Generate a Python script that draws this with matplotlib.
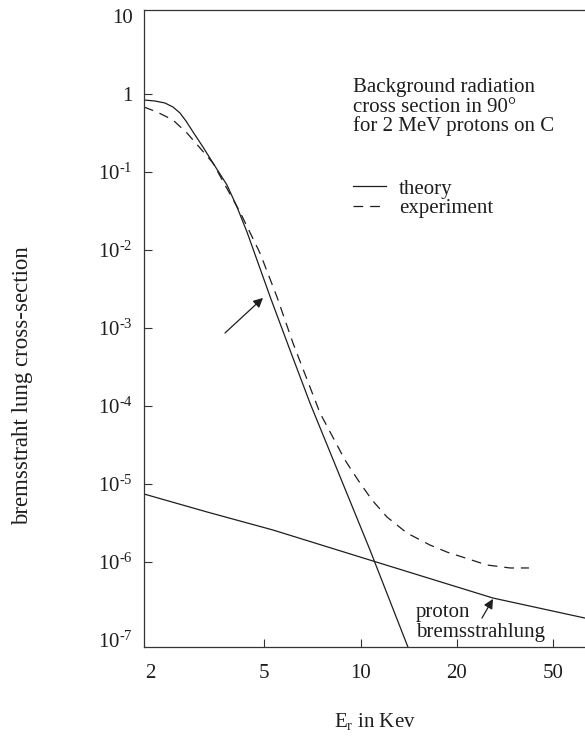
import numpy as np
import matplotlib
matplotlib.use("Agg")
import matplotlib.pyplot as plt
from matplotlib.ticker import FixedLocator, FixedFormatter, NullLocator

plt.rcParams['font.family'] = ['Liberation Serif', 'DejaVu Serif']
plt.rcParams['mathtext.fontset'] = 'custom'
plt.rcParams['mathtext.rm'] = 'Liberation Serif'
plt.rcParams['mathtext.it'] = 'Liberation Serif:italic'
plt.rcParams['lines.scale_dashes'] = False

# theory curve (E_r in keV, cross-section)
theory_x = [1.906, 2.082, 2.256, 2.406, 2.545, 2.671, 2.827, 3.063, 3.318, 3.714, 4.025, 4.362,
            5.256, 6.021, 6.946, 8.014, 10.67, 14.04]
theory_y = [0.838, 0.813, 0.767, 0.681, 0.571, 0.451, 0.326, 0.209, 0.1304, 0.0681, 0.0356, 0.0170,
            2.35e-3, 5.22e-4, 1.092e-4, 2.57e-5, 1.43e-6, 8.1e-8]

# experiment curve
exp_x = [1.906, 2.116, 2.406, 2.693, 2.99, 3.318, 3.655, 4.123, 4.842, 5.487, 6.151, 7.462,
         8.92, 9.788, 10.83, 12.06, 13.94, 16.46, 18.61, 26.64, 33.18, 39.76]
exp_y = [0.681, 0.588, 0.464, 0.316, 0.203, 0.1304, 0.0681, 0.0307, 9.15e-3, 2.50e-3, 6.42e-4, 8.13e-5,
         2.03e-5, 1.125e-5, 6.23e-6, 3.78e-6, 2.35e-6, 1.65e-6, 1.34e-6, 9.15e-7, 8.38e-7, 8.38e-7]

# proton bremsstrahlung line
proton_x = [1.906, 3.161, 5.332, 10.90, 28.20, 67.9]
proton_y = [7.44e-6, 4.38e-6, 2.57e-6, 1.03e-6, 3.45e-7, 1.91e-7]

x_ticks = [2, 5, 10, 20, 50]
x_ticklabels = ['2', '5', '10', '20', '50']
y_ticks = [1e1, 1, 1e-1, 1e-2, 1e-3, 1e-4, 1e-5, 1e-6, 1e-7]
y_ticklabels = ['10', '1'] + [r'$\mathregular{10^{\text{-}%d}}$' % k for k in range(1, 8)]

title_lines = ['Background radiation', 'cross section in 90°', 'for 2 MeV protons on C']

# the printed energy axis is hand drawn: tick spacing is not a clean log scale
AX_LOG = np.log10(x_ticks)
AX_POS = np.array([150, 264, 361, 457, 553], dtype=float)


def fwd(x):
    lx = np.log10(np.clip(np.asarray(x, dtype=float), 1e-9, None))
    p = np.interp(lx, AX_LOG, AX_POS)
    s0 = (AX_POS[1] - AX_POS[0]) / (AX_LOG[1] - AX_LOG[0])
    s1 = (AX_POS[-1] - AX_POS[-2]) / (AX_LOG[-1] - AX_LOG[-2])
    p = np.where(lx < AX_LOG[0], AX_POS[0] + (lx - AX_LOG[0]) * s0, p)
    p = np.where(lx > AX_LOG[-1], AX_POS[-1] + (lx - AX_LOG[-1]) * s1, p)
    return p


def inv(p):
    p = np.asarray(p, dtype=float)
    lx = np.interp(p, AX_POS, AX_LOG)
    s0 = (AX_LOG[1] - AX_LOG[0]) / (AX_POS[1] - AX_POS[0])
    s1 = (AX_LOG[-1] - AX_LOG[-2]) / (AX_POS[-1] - AX_POS[-2])
    lx = np.where(p < AX_POS[0], AX_LOG[0] + (p - AX_POS[0]) * s0, lx)
    lx = np.where(p > AX_POS[-1], AX_LOG[-1] + (p - AX_POS[-1]) * s1, lx)
    return 10 ** lx


W, H = 585, 738
fig = plt.figure(figsize=(W / 100, H / 100), dpi=100)
ax = fig.add_axes([144 / W, (H - 647) / H, (W - 144) / W, (647 - 10) / H])

ink = '#1e1e1e'
ax.set_xscale('function', functions=(fwd, inv))
ax.set_yscale('log')

th, = ax.plot(theory_x, theory_y, color=ink, lw=0.9, label='theory')
ex, = ax.plot(exp_x, exp_y, color=ink, lw=0.9, dashes=(7, 5), label='experiment')
ax.plot(proton_x, proton_y, color=ink, lw=0.9)

ax.set_xlim(1.906, 67.9)
ax.set_ylim(10 ** -7.09, 10 ** 1.077)

ax.xaxis.set_major_locator(FixedLocator(x_ticks))
ax.xaxis.set_major_formatter(FixedFormatter(x_ticklabels))
ax.xaxis.set_minor_locator(NullLocator())
ax.yaxis.set_major_locator(FixedLocator(y_ticks))
ax.yaxis.set_major_formatter(FixedFormatter(y_ticklabels))
ax.yaxis.set_minor_locator(NullLocator())

ax.tick_params(axis='both', direction='in', length=6, width=0.8, color='#333333',
               labelsize=15, labelcolor=ink)
ax.tick_params(axis='y', pad=8)
ax.tick_params(axis='x', pad=12)
ax.yaxis.get_major_ticks()[0].tick1line.set_visible(False)
ax.yaxis.get_major_ticks()[-1].tick1line.set_visible(False)
ax.xaxis.get_major_ticks()[0].tick1line.set_visible(False)

for side in ['left', 'bottom', 'top']:
    ax.spines[side].set_linewidth(0.9)
    ax.spines[side].set_color('#333333')
ax.spines['right'].set_visible(False)

# descriptive text
for i, line in enumerate(title_lines):
    fig.text(353 / W, 1 - (92 + i * 19.7) / H, line, fontsize=15, color=ink, va='baseline')

ax.legend(handles=[th, ex], loc='upper left', bbox_to_anchor=(353 / W, 1 - 179 / H),
          bbox_transform=fig.transFigure, frameon=False, fontsize=15, handlelength=1.6,
          handletextpad=0.6, labelspacing=0.0, borderpad=0, borderaxespad=0, labelcolor=ink)

fig.text(416 / W, 1 - 617 / H, 'proton', fontsize=15, color=ink, va='baseline')
fig.text(416 / W, 1 - 637 / H, 'bremsstrahlung', fontsize=15, color=ink, va='baseline')

# arrows
ax.annotate('', xy=(4.96, 2.43e-3), xytext=(3.655, 8.63e-4),
            arrowprops=dict(arrowstyle='-|>', color=ink, lw=0.9, mutation_scale=14, shrinkA=0, shrinkB=0))
ax.annotate('', xy=(28.2, 3.36e-7), xytext=(25.39, 1.91e-7),
            arrowprops=dict(arrowstyle='-|>', color=ink, lw=0.9, mutation_scale=14, shrinkA=0, shrinkB=0))

fig.text(23 / W, 1 - 386 / H, 'bremsstraht lung cross-section', rotation=90,
         fontsize=16.5, color=ink, ha='center', va='center')
fig.text(375 / W, 1 - 722 / H, r'E$_\mathregular{r}$ in Kev', fontsize=15, color=ink,
         ha='center', va='center')

fig.savefig('out.png', dpi=100)
